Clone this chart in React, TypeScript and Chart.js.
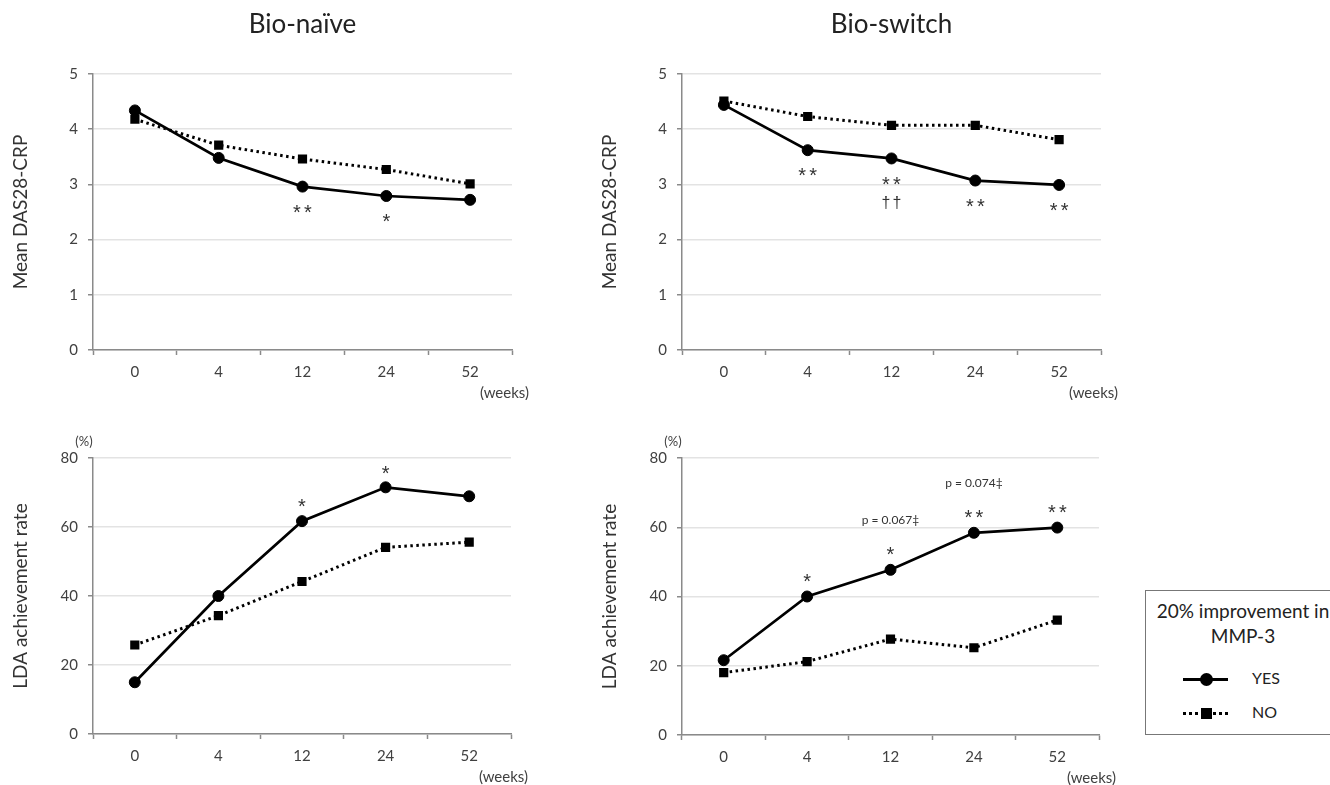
import React, { useEffect, useRef } from 'react';
import { Chart, registerables } from 'chart.js';
Chart.register(...registerables);

const weeks = ['0', '4', '12', '24', '52'];

const naiveDasYes = [4.34, 3.48, 2.96, 2.79, 2.72];
const naiveDasNo = [4.18, 3.71, 3.46, 3.27, 3.01];
const switchDasYes = [4.44, 3.62, 3.47, 3.07, 2.99];
const switchDasNo = [4.51, 4.23, 4.07, 4.07, 3.81];
const naiveLdaYes = [15.0, 40.0, 61.7, 71.5, 68.9];
const naiveLdaNo = [25.8, 34.3, 44.2, 54.1, 55.6];
const switchLdaYes = [21.6, 40.0, 47.7, 58.4, 59.9];
const switchLdaNo = [18.0, 21.2, 27.7, 25.2, 33.2];

const naiveDasMarks = ['', '', '**', '*', ''];
const switchDasMarks = ['', '**', '**', '**', '**'];
const switchDasDaggers = ['', '', '††', '', ''];
const naiveLdaMarks = ['', '', '*', '*', ''];
const switchLdaMarks = ['', '*', '*', '**', '**'];
const switchLdaPValues = ['', '', 'p = 0.067‡', 'p = 0.074‡', ''];

const FONT = 'Lato, "Open Sans", sans-serif';
const SYM = '"Liberation Sans", Arial, sans-serif';
const AXIS = '#8a8a8a';
const TXT = '#404040';

type Mark = { texts: string[]; dy: number; size: number; spaced: boolean; font: string };
type PanelCfg = {
  x: number; y: number; w: number; h: number;
  area: { l: number; t: number; r: number; b: number };
  yMax: number; yStep: number;
  yTitle: string; title?: string; unit?: string;
  yes: number[]; no: number[];
  marks: Mark[];
};

const panels: PanelCfg[] = [
  {
    x: 0, y: 0, w: 560, h: 400,
    area: { l: 93, t: 74, r: 512, b: 350 },
    yMax: 5, yStep: 1, yTitle: 'Mean DAS28-CRP', title: 'Bio-naïve',
    yes: naiveDasYes, no: naiveDasNo,
    marks: [{ texts: naiveDasMarks, dy: 21, size: 20, spaced: true, font: SYM }],
  },
  {
    x: 580, y: 0, w: 560, h: 400,
    area: { l: 102, t: 74, r: 521, b: 350 },
    yMax: 5, yStep: 1, yTitle: 'Mean DAS28-CRP', title: 'Bio-switch',
    yes: switchDasYes, no: switchDasNo,
    marks: [
      { texts: switchDasMarks, dy: 21, size: 20, spaced: true, font: SYM },
      { texts: switchDasDaggers, dy: 44, size: 16, spaced: true, font: SYM },
    ],
  },
  {
    x: 0, y: 400, w: 560, h: 385,
    area: { l: 93, t: 58, r: 511, b: 334 },
    yMax: 80, yStep: 20, yTitle: 'LDA achievement rate', unit: '(%)',
    yes: naiveLdaYes, no: naiveLdaNo,
    marks: [{ texts: naiveLdaMarks, dy: -19, size: 20, spaced: true, font: SYM }],
  },
  {
    x: 580, y: 400, w: 560, h: 385,
    area: { l: 102, t: 58, r: 519, b: 335 },
    yMax: 80, yStep: 20, yTitle: 'LDA achievement rate', unit: '(%)',
    yes: switchLdaYes, no: switchLdaNo,
    marks: [
      { texts: switchLdaMarks, dy: -20, size: 20, spaced: true, font: SYM },
      { texts: switchLdaPValues, dy: -50, size: 12, spaced: false, font: FONT },
    ],
  },
];

function makeTextPlugin(cfg: PanelCfg) {
  return {
    id: 'panelText',
    afterDraw(chart: any) {
      const { ctx, chartArea } = chart;
      const xs = chart.scales.x;
      const meta = chart.getDatasetMeta(0);
      ctx.save();
      ctx.fillStyle = '#222';
      ctx.textAlign = 'center';
      ctx.textBaseline = 'middle';
      if (cfg.title) {
        ctx.font = `26px ${FONT}`;
        ctx.fillText(cfg.title, (chartArea.left + chartArea.right) / 2, 25);
      }
      ctx.save();
      ctx.translate(chartArea.left - 72, (chartArea.top + chartArea.bottom) / 2);
      ctx.rotate(-Math.PI / 2);
      ctx.font = `19px ${FONT}`;
      ctx.fillStyle = '#333';
      ctx.fillText(cfg.yTitle, 0, 0);
      ctx.restore();
      ctx.font = `15px ${FONT}`;
      ctx.fillStyle = TXT;
      ctx.textAlign = 'right';
      ctx.fillText('(weeks)', chartArea.right + 17, chartArea.bottom + 43);
      if (cfg.unit) {
        ctx.textAlign = 'center';
        ctx.font = `13px ${FONT}`;
        ctx.fillText(cfg.unit, chartArea.left - 9, chartArea.top - 16);
      }
      ctx.textAlign = 'center';
      ctx.fillStyle = '#333';
      cfg.marks.forEach((m) => {
        ctx.font = `${m.size}px ${m.font}`;
        m.texts.forEach((t, i) => {
          if (!t) return;
          const px = xs.getPixelForValue(i);
          const py = meta.data[i].y + m.dy;
          if (m.spaced) {
            const chars = Array.from(t);
            const isStar = chars[0] === '*';
            ctx.textBaseline = 'alphabetic';
            const base = py + (isStar ? m.size * 0.56 : m.size * 0.36);
            chars.forEach((c, k) => {
              const cx = px + (k - (chars.length - 1) / 2) * 11;
              ctx.fillText(c, cx, base);
            });
            ctx.textBaseline = 'middle';
          } else {
            ctx.fillText(t, px, py);
          }
        });
      });
      ctx.restore();
    },
  };
}

function Panel({ cfg }: { cfg: PanelCfg }) {
  const ref = useRef<HTMLCanvasElement | null>(null);
  useEffect(() => {
    if (!ref.current) return;
    const xAxisH = 40;
    const chart = new Chart(ref.current, {
      type: 'line',
      data: {
        labels: weeks,
        datasets: [
          {
            label: 'YES',
            data: cfg.yes,
            borderColor: '#000',
            backgroundColor: '#000',
            borderWidth: 2.7,
            pointStyle: 'circle',
            pointRadius: 5.5,
            pointBorderWidth: 1,
            pointBackgroundColor: '#000',
            pointBorderColor: '#000',
            tension: 0,
          },
          {
            label: 'NO',
            data: cfg.no,
            borderColor: '#000',
            backgroundColor: '#000',
            borderWidth: 3,
            borderDash: [2.5, 3.5],
            pointStyle: 'rect',
            pointRadius: 6.5,
            pointBorderWidth: 0,
            pointBackgroundColor: '#000',
            pointBorderColor: '#000',
            tension: 0,
          },
        ],
      },
      options: {
        responsive: false,
        animation: false,
        layout: {
          padding: {
            left: 0,
            top: cfg.area.t,
            right: cfg.w - cfg.area.r,
            bottom: cfg.h - cfg.area.b - xAxisH,
          },
        },
        plugins: {
          legend: { display: false },
          tooltip: { enabled: false },
          title: { display: false },
        },
        scales: {
          x: {
            type: 'category',
            offset: true,
            grid: {
              offset: true,
              drawOnChartArea: false,
              drawTicks: true,
              tickLength: 5,
              tickColor: AXIS,
              tickWidth: 1.5,
            },
            border: { color: AXIS, width: 1.5 },
            ticks: {
              color: TXT,
              font: { family: FONT, size: 15 },
              padding: 8,
              maxRotation: 0,
            },
            afterFit: (s: any) => { s.height = xAxisH; },
          },
          y: {
            min: 0,
            max: cfg.yMax,
            ticks: {
              stepSize: cfg.yStep,
              color: TXT,
              font: { family: FONT, size: 15 },
              padding: 10,
            },
            grid: {
              color: '#e3e3e3',
              lineWidth: 1.5,
              drawTicks: true,
              tickLength: 5,
              tickColor: AXIS,
              tickWidth: 1.5,
            },
            border: { color: AXIS, width: 1.5 },
            afterFit: (s: any) => { s.width = cfg.area.l; },
          },
        },
      },
      plugins: [makeTextPlugin(cfg)],
    } as any);
    return () => chart.destroy();
  }, [cfg]);
  return (
    <canvas
      ref={ref}
      width={cfg.w}
      height={cfg.h}
      style={{ position: 'absolute', left: cfg.x, top: cfg.y, width: cfg.w, height: cfg.h }}
    />
  );
}

function Legend() {
  const row = (dotted: boolean, label: string, top: number) => (
    <div style={{ position: 'absolute', left: 0, top, width: 200, height: 20 }}>
      <div
        style={{
          position: 'absolute', left: 37, top: 9, width: 45, height: 0,
          borderTop: dotted ? '3px dotted #000' : '3px solid #000',
        }}
      />
      <div
        style={{
          position: 'absolute', left: dotted ? 55 : 54, top: dotted ? 5 : 4,
          width: dotted ? 11 : 13, height: dotted ? 11 : 13,
          borderRadius: dotted ? 0 : '50%', background: '#000',
        }}
      />
      <div style={{ position: 'absolute', left: 106, top: -1, fontSize: 16, color: '#222' }}>{label}</div>
    </div>
  );
  return (
    <div
      style={{
        position: 'absolute', left: 1145, top: 590, width: 196, height: 145,
        border: '1.5px solid #777', background: '#fff', fontFamily: FONT, boxSizing: 'border-box',
      }}
    >
      <div style={{ position: 'absolute', left: 0, top: 7, width: 194, textAlign: 'center', fontSize: 19, color: '#222', whiteSpace: 'nowrap', lineHeight: '25px' }}>
        20% improvement in<br />MMP-3
      </div>
      {row(false, 'YES', 78)}
      {row(true, 'NO', 112)}
    </div>
  );
}

export default function App() {
  return (
    <div style={{ position: 'fixed', left: 0, top: 0, width: 1330, height: 785, background: '#fff', overflow: 'hidden' }}>
      {panels.map((p, i) => <Panel key={i} cfg={p} />)}
      <Legend />
    </div>
  );
}
